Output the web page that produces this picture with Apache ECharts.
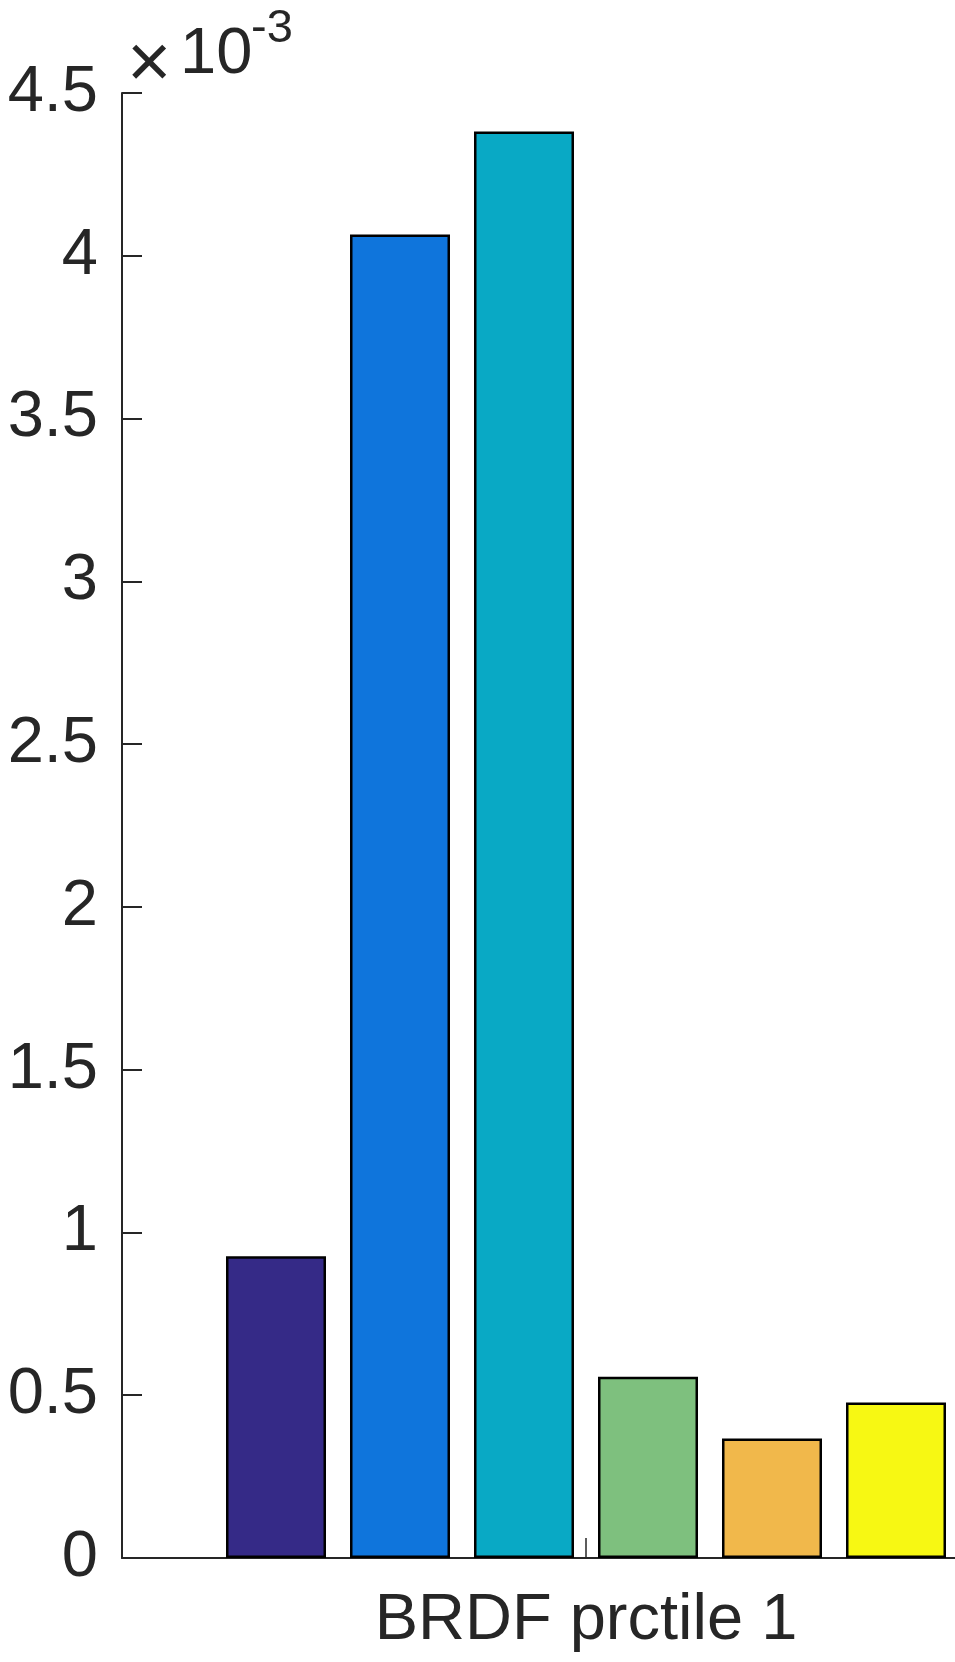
<!DOCTYPE html>
<html>
<head>
<meta charset="utf-8">
<script src="https://cdn.jsdelivr.net/npm/echarts@6/dist/echarts.min.js"></script>
<style>
  html, body { margin: 0; padding: 0; background: #fff; overflow: hidden; }
  /* plot runs past the right edge of the window, like the cropped original */
  #chart { width: 1050px; height: 1662px; }
</style>
</head>
<body>
<div id="chart"></div>
<script>
const categories = ["BRDF prctile 1"];
const seriesNames = ["s1", "s2", "s3", "s4", "s5", "s6"];
const seriesValues = [0.000927, 0.004065, 0.004382, 0.000557, 0.000367, 0.000478];
const barColors = ["#352a87", "#0f75dc", "#09a9c5", "#7ec07e", "#f1b84b", "#f7f813"];
const yTicks = [0, 0.0005, 0.001, 0.0015, 0.002, 0.0025, 0.003, 0.0035, 0.004, 0.0045];

const ink = "#262626";
const font = "'Liberation Sans', Arial, Helvetica, sans-serif";

const chart = echarts.init(document.getElementById("chart"), null, { renderer: "canvas" });

const option = {
  animation: false,
  backgroundColor: "#fff",
  grid: {
    left: 122,
    top: 93,
    bottom: 104,
    right: 0,
    containLabel: false,
  },
  xAxis: {
    type: "category",
    data: categories,
    axisLine: { lineStyle: { color: ink, width: 2 } },
    axisTick: {
      show: true,
      inside: true,
      alignWithLabel: true,
      length: 20,
      lineStyle: { color: ink, width: 1.5 },
    },
    axisLabel: {
      color: ink,
      fontSize: 65,
      fontFamily: font,
      margin: 31,
    },
    splitLine: { show: false },
  },
  yAxis: {
    type: "value",
    min: yTicks[0],
    max: yTicks[yTicks.length - 1],
    interval: yTicks[1] - yTicks[0],
    axisLine: { show: true, lineStyle: { color: ink, width: 2 } },
    axisTick: {
      show: true,
      inside: true,
      length: 20,
      lineStyle: { color: ink, width: 2 },
    },
    axisLabel: {
      color: ink,
      fontSize: 65,
      fontFamily: font,
      margin: 24,
      formatter: (v) => String(+(v * 1000).toFixed(1)),
    },
    splitLine: { show: false },
  },
  series: seriesNames.map((name, i) => ({
    name: name,
    type: "bar",
    barWidth: 100,
    barGap: "24%",
    data: [seriesValues[i]],
    itemStyle: {
      color: barColors[i],
      borderColor: "#000",
      borderWidth: 2.5,
    },
  })),
  graphic: [
    {
      type: "text",
      left: 127,
      top: 28,
      style: { text: "×", fill: ink, font: "76px " + font },
    },
    {
      type: "text",
      left: 180,
      top: 23,
      style: { text: "10", fill: ink, font: "65px " + font },
    },
    {
      type: "text",
      left: 251,
      top: 6,
      style: { text: "-3", fill: ink, font: "47px " + font },
    },
  ],
};

chart.setOption(option);
</script>
</body>
</html>
